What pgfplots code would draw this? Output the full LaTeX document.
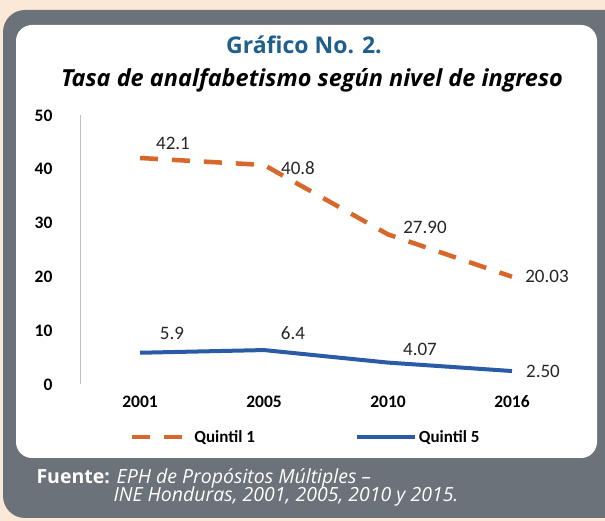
\documentclass[border=0pt]{standalone}
\usepackage{pgfplots}
\pgfplotsset{compat=1.18}
\usepackage{fontspec}
\setmainfont{Carlito}
\newfontfamily\osans{Open Sans}
\definecolor{bgbeige}{HTML}{FCE8D6}
\definecolor{framegray}{HTML}{6B7279}
\definecolor{titleblue}{HTML}{1F5F8B}
\definecolor{qorange}{HTML}{D8672A}
\definecolor{qblue}{HTML}{2B5BA6}
\pgfplotstableread{
x y lbl dx dy
0 42.1 42.1 33 15
1 40.8 40.8 34 -3
2 27.90 27.90 37 7
3 20.03 20.03 35 0
}\quintilone
\pgfplotstableread{
x y lbl dx dy
0 5.9 5.9 32 19
1 6.4 6.4 29 17
2 4.07 4.07 32 13
3 2.50 2.50 31 0
}\quintilfive
\begin{document}
\begin{tikzpicture}[x=1pt,y=1pt]
\useasboundingbox (0,0) rectangle (605,521);
\fill[bgbeige] (0,0) rectangle (605,521);
\fill[framegray, rounded corners=22pt] (3,3) rectangle (640,511);
\fill[white, rounded corners=16pt] (16,63) rectangle (597,496);
\node[font=\osans\bfseries\fontsize{23}{27}\selectfont, text=titleblue] at (304,476) {Gráfico No. 2.};
\node[font=\osans\bfseries\itshape\fontsize{23.5}{27}\selectfont] at (312,441) {Tasa de analfabetismo según nivel de ingreso};
\begin{axis}[
  at={(80pt,136.5pt)}, anchor=south west,
  scale only axis, width=492pt, height=269pt,
  xmin=-0.484, xmax=3.484, ymin=0, ymax=50,
  axis lines=left,
  x axis line style={draw=none},
  y axis line style={draw=black!25, -},
  major tick length=0pt,
  xtick={0,1,2,3}, xticklabels={2001,2005,2010,2016},
  ytick={0,10,20,30,40,50},
  /pgf/number format/assume math mode=true,
  ticklabel style={font=\bfseries\fontsize{17.5}{20}\selectfont},
  yticklabel style={anchor=east, xshift=-24pt},
  xticklabel style={yshift=-8pt},
  clip=false,
  point meta=explicit symbolic,
  nodes near coords,
  nodes near coords style={anchor=center, xshift=\dx pt, yshift=\dy pt, text=black!85, font=\fontsize{19}{22}\selectfont},
  visualization depends on={\thisrow{dx} \as \dx},
  visualization depends on={\thisrow{dy} \as \dy},
  legend style={at={(rel axis cs:0.095,-0.195)}, anchor=west, draw=none, fill=none,
    legend columns=2, font=\bfseries\fontsize{17}{20}\selectfont,
    /tikz/every even column/.append style={column sep=98pt}},
  legend cell align=left,
  legend image code/.code={\draw[#1] (0pt,0pt) -- (58pt,0pt);},
]
\addplot[qorange, line width=4.5pt, dash pattern=on 18pt off 14pt] table[x=x, y=y, meta=lbl] {\quintilone};
\addlegendentry{Quintil 1}
\addplot[qblue, line width=4pt] table[x=x, y=y, meta=lbl] {\quintilfive};
\addlegendentry{Quintil 5}
\end{axis}
\node[anchor=west, text=white, font=\osans\fontsize{19.5}{22}\selectfont] at (33,43) {\textbf{Fuente:} \textit{EPH de Propósitos Múltiples –}};
\node[anchor=west, text=white, font=\osans\itshape\fontsize{19.5}{22}\selectfont] at (110,25) {INE Honduras, 2001, 2005, 2010 y 2015.};
\end{tikzpicture}
\end{document}
